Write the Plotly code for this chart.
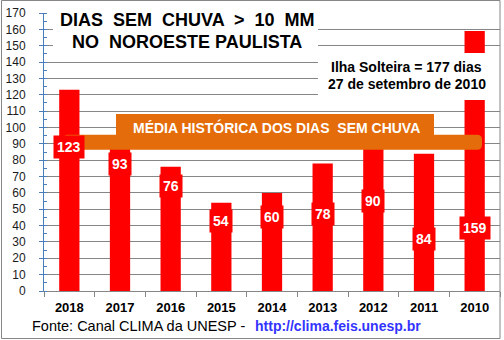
import plotly.graph_objects as go

# ---- data ----
anos = ["2018", "2017", "2016", "2015", "2014", "2013", "2012", "2011", "2010"]
dias_sem_chuva = [123, 93, 76, 54, 60, 78, 90, 84, 159]
media_historica = 91
y_ticks = list(range(0, 171, 10))

# label placement (style, data units)
label_y = [88, 77.5, 64.5, 43, 45.5, 47, 55, 31.5, 38.5]

# ---- layout geometry helpers ----
W, H = 504, 340
L, R, T, B = 44, 4, 13, 49
PW, PH = W - L - R, H - T - B
UPP = 170 / PH  # data units per pixel (y)


def px(x):
    return (x - L) / PW


def py(y):
    return (H - B - y) / PH


FONT = "Liberation Sans, Arial, sans-serif"
RED = "#ff0000"
ORANGE = "#e46c0a"
GRID = "#868686"
AXBLUE = "#4a7ebb"

fig = go.Figure(
    go.Bar(
        x=anos,
        y=dias_sem_chuva,
        marker=dict(color=RED, line=dict(width=0)),
        hoverinfo="skip",
    )
)


def rounded_band(x0, x1, yc, half_px, r_px):
    # x in paper coords (from pixels), y in data coords
    X0, X1 = px(x0), px(x1)
    rx = r_px / PW
    ry = r_px * UPP
    ylo, yhi = yc - half_px * UPP, yc + half_px * UPP
    return (
        f"M {X0 + rx},{yhi} L {X1 - rx},{yhi} Q {X1},{yhi} {X1},{yhi - ry} "
        f"L {X1},{ylo + ry} Q {X1},{ylo} {X1 - rx},{ylo} "
        f"L {X0 + rx},{ylo} Q {X0},{ylo} {X0},{ylo + ry} "
        f"L {X0},{yhi - ry} Q {X0},{yhi} {X0 + rx},{yhi} Z"
    )


shapes = [
    # white box behind title
    dict(type="rect", xref="paper", yref="paper", x0=px(53), x1=px(318), y0=py(55), y1=py(-2),
         fillcolor="white", line=dict(width=0), layer="above"),
    # white box behind Ilha Solteira note
    dict(type="rect", xref="paper", yref="paper", x0=px(318), x1=px(502), y0=py(100), y1=py(53),
         fillcolor="white", line=dict(width=0), layer="above"),
    # orange label box
    dict(type="rect", xref="paper", yref="paper", x0=px(116), x1=px(434), y0=py(138), y1=py(114),
         fillcolor=ORANGE, line=dict(width=0), layer="above"),
    # orange band at historical mean
    dict(type="path", xref="paper", yref="y",
         path=rounded_band(63, 482, media_historica, 7.5, 5),
         fillcolor=ORANGE, line=dict(width=0), layer="above"),
    # outer frame
    dict(type="rect", xref="paper", yref="paper", x0=px(1.5), x1=px(500), y0=py(338.5), y1=py(0.5),
         fillcolor="rgba(0,0,0,0)", line=dict(color=GRID, width=1), layer="above"),
]

annotations = []


def txt(x, y, text, size, color="black", bold=False, xanchor="center", **kw):
    annotations.append(dict(
        xref="paper", yref="paper", x=px(x), y=py(y), text=text, showarrow=False,
        xanchor=xanchor, yanchor="middle",
        font=dict(family=FONT, size=size, color=color, weight="bold" if bold else "normal"),
        **kw,
    ))


txt(187, 20, "DIAS  SEM  CHUVA  >  10  MM", 18, bold=True)
txt(187, 42, "NO  NOROESTE PAULISTA", 18, bold=True)
txt(406, 67, "Ilha Solteira = 177 dias", 14, bold=True)
txt(407, 84, "27 de setembro de 2010", 14, bold=True)
txt(276, 127, "MÉDIA HISTÓRICA DOS DIAS  SEM CHUVA", 14, color="white", bold=True)
txt(30, 326, "Fonte: Canal CLIMA da UNESP -", 14.5, xanchor="left")
txt(253, 326, "http://clima.feis.unesp.br", 14, color="#3333ff", bold=True, xanchor="left")

for i, (v, ly) in enumerate(zip(dias_sem_chuva, label_y)):
    annotations.append(dict(
        x=i, y=ly, xref="x", yref="y", text=str(v), showarrow=False,
        xanchor="center", yanchor="middle",
        font=dict(family=FONT, size=14, color="white", weight="bold"),
        bgcolor=RED, borderpad=3,
    ))

fig.update_layout(
    width=W, height=H, autosize=False,
    margin=dict(l=L, r=R, t=T, b=B, pad=0),
    paper_bgcolor="white", plot_bgcolor="white",
    showlegend=False, bargap=0.6,
    shapes=shapes, annotations=annotations,
    xaxis=dict(
        type="category", range=[-0.5, len(anos) - 0.5],
        showline=True, linecolor=GRID, linewidth=1,
        ticks="outside", tickson="boundaries", ticklen=5, tickcolor=GRID,
        ticklabelstandoff=4,
        tickfont=dict(family=FONT, size=13, color="black", weight="bold"),
        showgrid=False, zeroline=False, fixedrange=True,
    ),
    yaxis=dict(
        range=[0, 170], tickvals=y_ticks, showgrid=True, gridcolor=GRID, gridwidth=1,
        showline=True, linecolor=AXBLUE, linewidth=1,
        ticks="outside", ticklen=4, tickcolor=AXBLUE,
        ticklabelstandoff=11,
        minor=dict(dtick=5, ticks="inside", ticklen=3, tickcolor=AXBLUE, showgrid=False),
        tickfont=dict(family=FONT, size=12, color="#1a1a1a"),
        zeroline=False, fixedrange=True,
    ),
)

fig.write_html("out.html")
